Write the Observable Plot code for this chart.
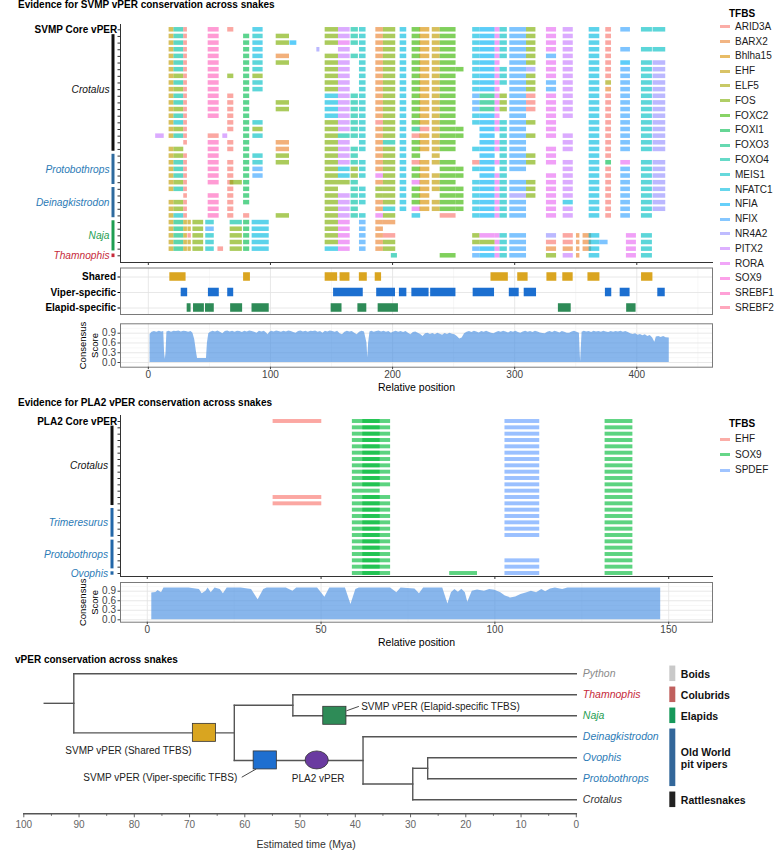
<!DOCTYPE html>
<html><head><meta charset="utf-8">
<script src="https://cdn.jsdelivr.net/npm/d3@7"></script>
<script src="https://cdn.jsdelivr.net/npm/@observablehq/plot@0.6"></script>
<style>
body{margin:0;background:#fff;font-family:"Liberation Sans",Arial,Helvetica,sans-serif;}
#wrap{position:relative;width:777px;height:850px;overflow:hidden;background:#fff;}
.t{position:absolute;white-space:nowrap;line-height:12px;}
.title{font-weight:bold;font-size:10px;color:#000;}
.leg{font-size:10px;color:#1a1a1a;}
.sw{position:absolute;height:3px;width:10px;}
</style></head><body><div id="wrap"></div>
<script>
// ---------------- DATA ----------------
const tfNames = ["ARID3A","BARX2","Bhlha15","EHF","ELF5","FOS","FOXC2","FOXI1","FOXO3","FOXO4","MEIS1","NFATC1","NFIA","NFIX","NR4A2","PITX2","RORA","SOX9","SREBF1","SREBF2"];
const tfCodes = "abcdefghijklmnopqrst";
const tfColors = ["#F8766D","#EA8331","#D89000","#C09B00","#A3A500","#7CAE00","#39B600","#00BB4E","#00BF7D","#00C1A3","#00BFC4","#00BAE0","#00B0F6","#35A2FF","#9590FF","#C77CFF","#E76BF3","#FA62DB","#FF62BC","#FF6C91"];

// SVMP TFBS sites: [start, end, default TF code]
const svmpSites = [
 [6,13,"p"],[17,21,"d"],[21,29,"j"],[29,32,"a"],[32.4,35.2,"d"],[36.5,45.3,"f"],[47,54,"k"],[49,58,"s"],
 [57,61.6,"a"],[61,65,"p"],[65,70,"a"],[67,77,"f"],[78,83,"h"],[85.6,94,"k"],[85,99,"l"],[104.7,115.6,"f"],
 [116,121.6,"m"],[138,140.5,"o"],[144.8,155.7,"f"],[155.7,165.3,"p"],[166,172,"j"],[172.9,178.3,"k"],[186.3,192.5,"b"],[192.5,202.6,"f"],
 [206.2,211.6,"l"],[216,223,"g"],[222.5,230.5,"c"],[232.5,239,"d"],[239,252,"g"],[252,258.5,"g"],[265.6,271.6,"l"],[271.6,284,"m"],
 [284,288,"q"],[288,294,"k"],[296,309.7,"n"],[309.7,317.4,"f"],[326,334.3,"q"],[339.7,348,"p"],[361,369.7,"l"],[374.6,379.3,"a"],
 [386.9,394.8,"n"],[403.8,412.8,"k"],[413.3,423.7,"o"],[350.6,353.4,"b"],[356,363,"b"],[369.7,376.5,"n"],[391.5,399.7,"q"],[199,204,"j"]
];
// per sequence: site index + optional TF override code
const svmpRows = [
 "1 2 3 7 10 13l 18 19 20 21 22 23 24 25 26 27 28 30 31 32 33 34 35 36 37 38 39 40 41 42k",
 "1 2 3 7 12 13 15 18 19 20 21 22 23 24 25 26 27 28 30 31 32 33 34 35 36 37 38 39",
 "1 2 3 7 12 13l 15 16 18 19q 20 21 22 23 24 25 26 27 28 30 31 32 33 34 35 36 37 38 39",
 "1 2 3 7 12 13l 17 19 21 22 23 24 25 26 27 28 30 31 32 33 34 35 36 37 38 39 40 41 42k",
 "1 2 3 7 12 13l 15b 18 19 20 21 22 23 24 25 26 27 28 30 31 32 33 34 35 36n 37 38 39",
 "1 2 3 7 12 13 15 18 19 21 22 23 24 25 26 27 28 30 31 32 34 35 36 37 38 39 40m 41 42o",
 "1 2 3 7 12 13 18 19 21 22 23 24 25 26 27 28 29 30 31 32 33 34 35o 36 37 38 39 40 41 42o",
 "1 2f 3 7 10f 12 13f 18 19 21 22 23 24 25 26 27 28 30 31 32 33 34 35 36 37 38 39 40 41 42o",
 "1 2 3 7 12 13 18 19 21 22 23 24 25 26 27 28 30 31 32 33 34 35 36n 37 38 39e 40 41 42o",
 "1 2f 3 7 12 13 18 19 21 22 23 24 25 26 27 28 30 31 32 34 35 36n 37 38 39b 40 41 42o",
 "1 2 3 7 10 12 18l 19 20 21 22 23 24 25 26 27 28 30n 31i 32 33f 34 35a 36 37 38 39 40 41 42",
 "1 2 3 7 10 12 15 18l 19 20 21 22 23 24 25 26 27 28 30n 31i 32 33f 34 35a 36 37 38 39 40 41 42",
 "1 2f 3 7 10 12 15 18l 19 20 21 22 23 24 25 26 27 28 30n 31i 32 33f 34 35a 36 37 38 39 40 41 42",
 "1 2 3 7 10 12 18l 19 20 21 22 23 24 25 26 27 28 30 31 32 34 36q 37 38 39 40 41 42",
 "1 2k 3 10 12 13 18 19 20 21 22a 23 24 25 26 27 28 30 31 32 33 34 35 36q 38 39 40 41 42o",
 "1 2f 3 10 12 13f 18 19 20 21 22 23 24 25i 26a 27 28 29 31 32 33 34 36 38 39 40 41 42o",
 "0 1 2 3 7a 9 12 13 18 19j 20 21 22 23 24 25a 26 27 28 29 31 33 34 35 36 37 38 39 40 41 42",
 "3 7 10 12 15b 18 19 21 22 23j 24 25 26 27 28 31 32 33 34 37 38 39 40 41 42o",
 "1 2f 7 10 12 15b 18 19 20 21 22 23 24 25 26 27 28 30 31 32 33 34 36 37 38 39 40 41 42",
 "1 2f 3 7 12 13 15 18 19 20 22 23 24 25 27 31 33 34 35 36 38 39",
 "1 2 3 7 10 12 13 15 18 19 20 21 22 23 24 25a 26 27 28 30a 31 32 33 34 35 36 37 38 39h 40q 41 42o",
 "1 2 3 7 10 12 13n 18 19l 20f 21 22 23 24 25 26 28 29 30 31 33 34 37 38 39 40 41 42o",
 "1 2 3 7 10 12 13n 18 19l 20f 21 22q 23 24 25 26 27 28 29 31 32 33 36 37 38 39 40 41 42o",
 "1 2f 3 7 10 11 12 18 19f 20 22 23 24 25q 26 27 28 30 31 32 33 34 35 36 37 38 39 40 41 42o",
 "1 2 3 10 12 18 20 21 22f 23 24 25 26 27 28 29 30 31 32 33 34 35 36 37 38 39 40 41 42",
 "3 7 10 12 18 19 20 21 22f 23 24 25 26 28 29 30 31 32 33 34o 35 36 37 38 39 40 41 42",
 "1 2f 3 7 10 12 18 19 20 21 22 23 24 25 26 27 28 29 30 31 32 33 34 36 37l 38 39 40 41 42o",
 "1 2f 3 7 10 18 19 20 22b 23k 24 25q 26 27 28 29 30 31 32 33 34 36 37 38 39 40 41 42",
 "1 2k 3 7 10 12a 15 18 19 20 21 22q 23 25l 28a 30 31 32 33 34 36 37 38 39 40 41",
 "1 2i 3d 4 5 6 11j 12 14 18 19q 21n 22 23b",
 "1 2i 3d 4 5 6n 11 12 14 18 19q 21n 22",
 "1 2i 3d 4a 5 6 11 12 14 18 19q 21n 22 23a 30f 31q 32 33 34 36o 37a 43 44 38 41 46",
 "1 2i 3d 4 5 6 11 12 14 18 19q 21n 22 23 30f 31f 32 33 34 36a 37a 43 44 38 45 41 46",
 "1 2i 3d 4 5 6 8 11 12 14 18l 19q 21n 22 23 30n 31 32 33 34 36b 37b 43 44 38 41 46",
 "28 30n 31 32 33 34 36f 37 43 38 41 46 47"
];
const svmpGroups = [
 {name:"Crotalus", from:1, to:18, text:"#111111", bar:"#111111"},
 {name:"Protobothrops", from:19, to:23, text:"#2C7BB6", bar:"#2E6A9E"},
 {name:"Deinagkistrodon", from:24, to:28, text:"#2C7BB6", bar:"#2E6A9E"},
 {name:"Naja", from:29, to:33, text:"#1E9E52", bar:"#1E9E52"},
 {name:"Thamnophis", from:34, to:34, text:"#C62A3A", bar:"#C62A3A"}
];
const svmpCoreLabel = "SVMP Core vPER";

const specCats = ["Shared","Viper-specific","Elapid-specific"];
const specColors = ["#DAA520","#1C6FD0","#2E8B57"];
const sharedSites = [[17.6,30.9],[78,83.6],[144.8,155],[157,165.1],[172.8,179.3],[185.8,191],[280.6,294.8],[302.5,311],[326.4,334.5],[339.4,347.9],[360,369.8],[403.9,413.2]];
const viperSites = [[26.9,32.2],[49.2,58.1],[65,69.9],[151.7,176],[187,202.4],[205.6,211.7],[215.8,229.9],[231.2,251.9],[266,283.5],[295.6,303.7],[307.8,317.9],[374.3,379.5],[386.4,394.5],[417.2,423.3]];
const elapidSites = [[31.8,35],[37,45.9],[46.8,54],[67.4,77.2],[84.9,99],[149.7,158.6],[171.6,178.9],[188.2,204.8],[335.8,346.3],[391.7,399.4]];

const svmpConsensus = [
 [1.4,0.86],[3,0.93],[5,0.95],[7,0.93],[9,0.96],[11,0.94],[12.6,0.95],[13.3,0.3],[13.9,0.1],[14.5,0.3],[15.2,0.94],[17,0.96],[19,0.93],[21,0.96],[23,0.95],[25,0.97],[27,0.94],[29,0.96],[31,0.95],[33,0.93],[35,0.95],[36.5,0.9],[38,0.7],[39.5,0.3],[40.3,0.12],[44,0.12],[47.6,0.12],[48.4,0.6],[49.5,0.88],
 [51,0.93],[53,0.96],[55,0.94],[57,0.97],[59,0.93],[61,0.88],[63,0.95],[65,0.97],[67,0.94],[69,0.96],[71,0.93],[73,0.96],[75,0.95],[77,0.92],[79,0.96],[81,0.94],[83,0.97],[85,0.95],[87,0.93],[89,0.9],[91,0.96],[93,0.94],[95,0.96],[97,0.9],[98,0.85],[99.5,0.93],
 [101,0.96],[103,0.94],[105,0.97],[107,0.95],[109,0.93],[111,0.96],[113,0.94],[115,0.97],[117,0.95],[119,0.92],[121,0.9],[123,0.95],[125,0.97],[127,0.94],[129,0.96],[131,0.93],[133,0.96],[135,0.95],[137,0.97],[139,0.93],[141,0.95],[143,0.9],[145,0.96],[147,0.94],[149,0.97],
 [151,0.95],[153,0.93],[155,0.96],[157,0.88],[159,0.85],[161,0.93],[163,0.96],[165,0.94],[167,0.95],[169,0.9],[171,0.85],[173,0.93],[175,0.96],[177,0.94],[179,0.6],[179.7,0.15],[180.4,0.6],[181.5,0.94],[183,0.96],[185,0.93],[187,0.95],[189,0.97],[191,0.94],[193,0.96],[195,0.93],[197,0.95],[199,0.9],
 [201,0.94],[203,0.96],[205,0.93],[207,0.95],[209,0.92],[211,0.95],[213,0.9],[215,0.85],[217,0.92],[219,0.94],[221,0.9],[223,0.86],[225,0.8],[227,0.88],[229,0.9],[231,0.86],[233,0.89],[235,0.85],[237,0.9],[239,0.87],[241,0.84],[243,0.89],[245,0.86],[247,0.9],[249,0.87],
 [251,0.85],[253,0.8],[255,0.72],[257,0.75],[259,0.88],[261,0.93],[263,0.95],[265,0.92],[267,0.96],[269,0.94],[271,0.91],[273,0.95],[275,0.93],[277,0.96],[279,0.93],[281,0.9],[283,0.88],[285,0.92],[287,0.95],[289,0.93],[291,0.96],[293,0.94],[295,0.91],[297,0.95],[299,0.93],
 [301,0.96],[303,0.92],[305,0.9],[307,0.94],[309,0.96],[311,0.93],[313,0.95],[315,0.92],[317,0.96],[319,0.94],[321,0.91],[323,0.89],[325,0.88],[327,0.93],[329,0.95],[331,0.92],[333,0.96],[335,0.94],[337,0.91],[339,0.95],[341,0.93],[343,0.9],[345,0.9],[347,0.94],[349,0.96],
 [351,0.93],[353,0.9],[353.5,0.4],[354,0.02],[354.5,0.4],[355.2,0.93],[357,0.96],[359,0.94],[361,0.95],[363,0.92],[365,0.96],[367,0.94],[369,0.95],[371,0.93],[373,0.96],[375,0.94],[377,0.92],[379,0.95],[381,0.93],[383,0.95],[385,0.94],[387,0.96],[389,0.93],[391,0.95],[393,0.92],[395,0.88],[397,0.86],[399,0.88],
 [401,0.84],[403,0.86],[405,0.82],[407,0.85],[409,0.8],[411,0.83],[413,0.75],[414.8,0.62],[416,0.78],[418,0.8],[420,0.77],[422,0.8],[424,0.76],[426.6,0.75]
];

const pla2TF = ["EHF","SOX9","SPDEF"];
const pla2Colors = ["#F8766D","#00BA38","#619CFF"];
const pla2Sites = [[36.2,50.2,"EHF"],[59,67,"SOX9"],[62,70,"SOX9"],[87,95,"SOX9"],[102.9,112.9,"SPDEF"],[131.7,139.7,"SOX9"]];
const pla2Rows = [
 "0 1 2 4 5","1 2 4 5","1 2 4 5","1 2 4 5","1 2 4 5","1 2 4 5","1 2 4 5","1 2 4 5","1 2 4 5","1 2 4 5","1 2 4 5",
 "1 4 5","0 1 2 4 5","0 1 2 4 5","1 2 4 5","1 2 4 5","1 2 4 5","1 2 4 5","1 2 4 5",
 "1 2 5","1 2 5","1 2 5","1 2 4 5","1 2 4 5","1 2 3 4 5"
];
const pla2Groups = [
 {name:"Crotalus", from:1, to:13, text:"#111111", bar:"#111111"},
 {name:"Trimeresurus", from:14, to:18, text:"#2C7BB6", bar:"#2367A8"},
 {name:"Protobothrops", from:19, to:23, text:"#2C7BB6", bar:"#2367A8"},
 {name:"Ovophis", from:24, to:24, text:"#2C7BB6", bar:"#2367A8"}
];
const pla2CoreLabel = "PLA2 Core vPER";
const pla2Consensus = [
 [1.3,0.84],[2.5,0.86],[3.1,0.92],[4.1,0.85],[4.8,1.0],[8,1.0],[12,1.0],[15,0.95],[15.8,0.82],[16.9,0.9],[17.5,1.0],[18.4,0.85],[19.5,1.0],[21,0.95],[21.9,0.82],[23,1.0],[27,1.0],[30,0.95],[31.9,0.63],[33.5,0.95],[34.5,1.0],
 [40,1.0],[41.9,0.9],[43,1.0],[49,1.0],[51.1,0.71],[52.5,1.0],[57,1.0],[58.6,0.48],[60,0.95],[61,1.0],[70,1.0],[71.8,0.85],[73,1.0],[77,0.97],[78.3,0.82],[79.5,1.0],[85,1.0],[86.5,0.5],[87.5,0.85],[88.5,0.95],[89.5,0.87],[90.5,0.96],[91.5,0.85],[92.2,0.55],[93.5,0.9],[95,0.94],[97,0.9],[98.5,0.95],
 [100,0.93],[101.7,0.85],[103,0.75],[104.5,0.69],[106,0.72],[107.5,0.8],[109,0.84],[110.5,0.9],[112,0.85],[113.5,0.95],[114.6,0.88],[116,0.97],[117.4,1.0],[119.5,0.95],[121,1.0],[147.7,1.0]
];

const treeTips = ["Python","Thamnophis","Naja","Deinagkistrodon","Ovophis","Protobothrops","Crotalus"];
const tipColors = ["#8a8a8a","#C62A3A","#1E9E52","#2C7BB6","#2C7BB6","#2C7BB6","#333333"];
const treeNodes = [
 {id:"root", time:90.95, children:["Python","A"]},
 {id:"A", time:61.9, children:["B","C"]},
 {id:"B", time:51.3, children:["Thamnophis","Naja"]},
 {id:"C", time:38.6, children:["Deinagkistrodon","D"]},
 {id:"D", time:29.6, children:["E","Crotalus"]},
 {id:"E", time:26.9, children:["Ovophis","Protobothrops"]}
];
const rootEdgeStart = 96.3;
const clades = [
 {name:"Boids", tips:["Python"], color:"#C9C9C9"},
 {name:"Colubrids", tips:["Thamnophis"], color:"#C0605E"},
 {name:"Elapids", tips:["Naja"], color:"#16985A"},
 {name:"Old World\npit vipers", tips:["Deinagkistrodon","Ovophis","Protobothrops"], color:"#33679A"},
 {name:"Rattlesnakes", tips:["Crotalus"], color:"#222222"}
];
const treeEvents = [
 {label:"SVMP vPER (Shared TFBS)", time:67.3, branch:"A", shape:"box", color:"#D9A520"},
 {label:"SVMP vPER (Elapid-specific TFBS)", time:43.7, branch:"Naja", shape:"box", color:"#2E8B57"},
 {label:"SVMP vPER (Viper-specific TFBS)", time:56.3, branch:"C", shape:"box", color:"#1E6FD0"},
 {label:"PLA2 vPER", time:46.9, branch:"C", shape:"oval", color:"#6A3BA0"}
];
const timeMajor = d3.range(0, 101, 10);
const timeMinor = d3.range(5, 100, 10);

// ---------------- LAYOUT / HELPERS ----------------
const FF = '"Liberation Sans", Arial, Helvetica, sans-serif';
const wrap = document.getElementById("wrap");
const baseStyle = {fontFamily: FF, fontSize: "10px", overflow: "visible", background: "none", color: "#000"};
function place(svg, top){ svg.style.position = "absolute"; svg.style.left = "0px"; svg.style.top = top + "px"; wrap.appendChild(svg); }
function addText(txt, left, top, cls, extra){ const d = document.createElement("div"); d.className = "t " + cls; d.textContent = txt; d.style.left = left + "px"; d.style.top = top + "px"; if (extra) Object.assign(d.style, extra); wrap.appendChild(d); return d; }
function hexA(hex, a){ const c = d3.rgb(hex); c.opacity = a; return c.formatRgb(); }
const codeToTF = Object.fromEntries(tfCodes.split("").map((c, i) => [c, tfNames[i]]));

function groupMarks(groups, coreLabel, domMin, labelDx, barDx){
  const m = [];
  m.push(Plot.text([coreLabel], {frameAnchor: "left", y: () => 0, text: d => d, dx: -3.3, textAnchor: "end", lineAnchor: "middle", fontWeight: "bold", fontSize: 10, fill: "#000"}));
  groups.forEach(g => {
    m.push(Plot.ruleX([g], {x: () => domMin, y1: d => d.from - 0.27, y2: d => d.to + 0.27, dx: barDx, stroke: g.bar, strokeWidth: 3}));
    m.push(Plot.text([g], {frameAnchor: "left", y: d => Math.floor((d.from + d.to) / 2), text: "name", dx: labelDx, textAnchor: "end", lineAnchor: "middle", fontStyle: "italic", fontSize: 10.2, fill: g.text}));
  });
  return m;
}
function consensusLabels(){
  return [
    Plot.text(["Relative position"], {frameAnchor: "bottom", text: d => d, dy: 20, textAnchor: "middle", lineAnchor: "middle", fontSize: 10.5, fill: "#000"}),
    Plot.text(["Consensus\nScore"], {frameAnchor: "left", text: d => d, dx: -32, rotate: -90, textAnchor: "middle", lineAnchor: "middle", fontSize: 9.5, fill: "#000", lineHeight: 1.2})
  ];
}

// ---------------- TITLES & LEGENDS ----------------
addText("Evidence for SVMP vPER conservation across snakes", 18, -1, "title");
addText("Evidence for PLA2 vPER conservation across snakes", 18, 396.5, "title");
addText("vPER conservation across snakes", 15, 654, "title");

addText("TFBS", 729, 8, "title");
tfNames.forEach((n, i) => {
  const y = 26.7 + 14.8 * i;
  const s = document.createElement("div"); s.className = "sw"; s.style.left = "720px"; s.style.top = (y - 1.5) + "px"; s.style.background = hexA(tfColors[i], 0.6); wrap.appendChild(s);
  addText(n, 735, y - 6, "leg");
});
addText("TFBS", 729, 418.3, "title");
pla2TF.forEach((n, i) => {
  const y = 439.3 + 15.5 * i;
  const s = document.createElement("div"); s.className = "sw"; s.style.left = "720px"; s.style.top = (y - 1.5) + "px"; s.style.background = hexA(pla2Colors[i], 0.6); wrap.appendChild(s);
  addText(n, 735, y - 6, "leg");
});

// ---------------- PANEL A: SVMP TFBS heatmap ----------------
const xTop = [-22.8, 462];
const svmpBars = svmpRows.flatMap((row, k) => row.split(" ").map(tok => {
  const m = tok.match(/^(\d+)([a-t]?)$/);
  const s = svmpSites[+m[1]];
  return {x1: s[0], x2: s[1], row: k, tf: codeToTF[m[2] || s[2]]};
}));
place(Plot.plot({
  width: 777, height: 268, marginLeft: 120, marginRight: 65, marginTop: 24, marginBottom: 6,
  style: baseStyle,
  x: {domain: xTop, label: null},
  y: {domain: [0, 34], range: [29.3, 255.3], label: null},
  color: {domain: tfNames, range: tfColors},
  marks: [
    Plot.rect(svmpBars, {x1: d => d.x1, x2: d => d.x2, y1: d => d.row - 0.34, y2: d => d.row + 0.34, fill: d => d.tf, fillOpacity: 0.64}),
    Plot.axisY(d3.range(svmpRows.length), {tickSize: 2.5, tickFormat: () => "", stroke: "#333"}),
    Plot.axisX([0, 100, 200, 300, 400], {tickSize: 3, tickFormat: () => "", stroke: "#333"}),
    Plot.frame({anchor: "left", stroke: "#333"}),
    Plot.frame({anchor: "bottom", stroke: "#333"}),
    ...groupMarks(svmpGroups, svmpCoreLabel, xTop[0], -11, -7.5)
  ]
}), 0);

// ---------------- PANEL B: shared / viper / elapid ----------------
const majorTop = [0, 100, 200, 300, 400], minorTop = [50, 150, 250, 350, 450];
const specBars = [sharedSites, viperSites, elapidSites].flatMap((arr, i) => arr.map(([a, b]) => ({x1: a, x2: b, cat: i})));
place(Plot.plot({
  width: 777, height: 56, marginLeft: 120, marginRight: 65, marginTop: 5.5, marginBottom: 4,
  style: baseStyle,
  x: {domain: xTop, label: null, axis: null},
  y: {domain: [0, 2], range: [14.5, 45.5], label: null},
  marks: [
    Plot.gridX(minorTop, {stroke: "#efefef", strokeOpacity: 1, strokeWidth: 0.5}),
    Plot.gridX(majorTop, {stroke: "#e2e2e2", strokeOpacity: 1, strokeWidth: 0.8}),
    Plot.gridY([0, 1, 2], {stroke: "#e2e2e2", strokeOpacity: 1, strokeWidth: 0.8}),
    ...specCats.map((c, i) => Plot.rect(specBars.filter(d => d.cat === i), {x1: d => d.x1, x2: d => d.x2, y1: d => d.cat - 0.275, y2: d => d.cat + 0.275, fill: specColors[i]})),
    Plot.frame({stroke: "#7a7a7a"}),
    Plot.axisY([0, 1, 2], {tickSize: 2.5, tickPadding: 2, tickFormat: i => specCats[i], fontWeight: "bold", fontSize: 10, color: "#000"})
  ]
}), 262);

// ---------------- PANEL C: SVMP consensus ----------------
place(Plot.plot({
  width: 777, height: 76, marginLeft: 120, marginRight: 65, marginTop: 5.3, marginBottom: 27.3,
  style: baseStyle,
  x: {domain: xTop, label: null},
  y: {domain: [-0.144, 1.189], label: null},
  marks: [
    Plot.gridX(minorTop, {stroke: "#efefef", strokeOpacity: 1, strokeWidth: 0.5}),
    Plot.gridX(majorTop, {stroke: "#e2e2e2", strokeOpacity: 1, strokeWidth: 0.8}),
    Plot.gridY([0.15, 0.45, 0.75, 1.05], {stroke: "#efefef", strokeOpacity: 1, strokeWidth: 0.5}),
    Plot.gridY([0, 0.3, 0.6, 0.9], {stroke: "#e2e2e2", strokeOpacity: 1, strokeWidth: 0.8}),
    Plot.areaY(svmpConsensus, {x: d => d[0], y: d => d[1], fill: "#4A90E2", fillOpacity: 0.66}),
    Plot.frame({stroke: "#7a7a7a"}),
    Plot.axisY([0, 0.3, 0.6, 0.9], {tickSize: 2.5, tickPadding: 2, tickFormat: d3.format(".1f"), fontSize: 10, color: "#444"}),
    Plot.axisX(majorTop, {tickSize: 2.5, tickPadding: 1.5, fontSize: 10, color: "#444"}),
    ...consensusLabels()
  ]
}), 318);

// ---------------- PANEL D: PLA2 TFBS heatmap ----------------
const xPla = [-7.7, 162.6];
const pla2Bars = pla2Rows.flatMap((row, k) => row.split(" ").map(tok => {
  const s = pla2Sites[+tok];
  return {x1: s[0], x2: s[1], row: k, tf: s[2]};
}));
place(Plot.plot({
  width: 777, height: 170, marginLeft: 120, marginRight: 65, marginTop: 5, marginBottom: 4,
  style: baseStyle,
  x: {domain: xPla, label: null},
  y: {domain: [0, 24], range: [11, 163], label: null},
  color: {domain: pla2TF, range: pla2Colors},
  marks: [
    Plot.rect(pla2Bars, {x1: d => d.x1, x2: d => d.x2, y1: d => d.row - 0.31, y2: d => d.row + 0.31, fill: d => d.tf, fillOpacity: 0.64}),
    Plot.axisY(d3.range(pla2Rows.length), {tickSize: 2.5, tickFormat: () => "", stroke: "#333"}),
    Plot.axisX([0, 50, 100, 150], {tickSize: 3, tickFormat: () => "", stroke: "#333"}),
    Plot.frame({anchor: "left", stroke: "#333"}),
    Plot.frame({anchor: "bottom", stroke: "#333"}),
    ...groupMarks(pla2Groups, pla2CoreLabel, xPla[0], -12.5, -8.5)
  ]
}), 410);

// ---------------- PANEL E: PLA2 consensus ----------------
place(Plot.plot({
  width: 777, height: 72, marginLeft: 120, marginRight: 65, marginTop: 5, marginBottom: 27.3,
  style: baseStyle,
  x: {domain: xPla, label: null},
  y: {domain: [-0.0755, 1.174], label: null},
  marks: [
    Plot.gridX([25, 75, 125], {stroke: "#efefef", strokeOpacity: 1, strokeWidth: 0.5}),
    Plot.gridX([0, 50, 100, 150], {stroke: "#e2e2e2", strokeOpacity: 1, strokeWidth: 0.8}),
    Plot.gridY([0.15, 0.45, 0.75, 1.05], {stroke: "#efefef", strokeOpacity: 1, strokeWidth: 0.5}),
    Plot.gridY([0, 0.3, 0.6, 0.9], {stroke: "#e2e2e2", strokeOpacity: 1, strokeWidth: 0.8}),
    Plot.areaY(pla2Consensus, {x: d => d[0], y: d => d[1], fill: "#4A90E2", fillOpacity: 0.66}),
    Plot.frame({stroke: "#7a7a7a"}),
    Plot.axisY([0, 0.3, 0.6, 0.9], {tickSize: 2.5, tickPadding: 2, tickFormat: d3.format(".1f"), fontSize: 10, color: "#444"}),
    Plot.axisX([0, 50, 100, 150], {tickSize: 2.5, tickPadding: 1.5, fontSize: 10, color: "#444"}),
    ...consensusLabels()
  ]
}), 577);

// ---------------- PANEL F: tree ----------------
const tipIndex = Object.fromEntries(treeTips.map((t, i) => [t, i]));
const nodeById = Object.fromEntries(treeNodes.map(n => [n.id, n]));
const yCache = {};
function yOf(id){ if (id in tipIndex) return tipIndex[id]; if (!(id in yCache)) yCache[id] = d3.mean(nodeById[id].children, yOf); return yCache[id]; }
function tOf(id){ return id in tipIndex ? 0 : nodeById[id].time; }
const treeSegs = [];
treeNodes.forEach(n => {
  const ys = n.children.map(yOf);
  treeSegs.push({x1: n.time, x2: n.time, y1: d3.min(ys), y2: d3.max(ys)});
  n.children.forEach(c => treeSegs.push({x1: n.time, x2: tOf(c), y1: yOf(c), y2: yOf(c)}));
});
treeSegs.push({x1: rootEdgeStart, x2: nodeById.root.time, y1: yOf("root"), y2: yOf("root")});

const T = {width: 777, height: 198, ml: 23.3, mr: 201.2, yr: [21.3, 147.3]};
const pxPerMya = (T.width - T.ml - T.mr) / 100;
const pxPerTip = (T.yr[1] - T.yr[0]) / (treeTips.length - 1);
const evLayout = {
  "SVMP vPER (Shared TFBS)": {anchor: "middle", dx: -76, dy: 17.6},
  "SVMP vPER (Elapid-specific TFBS)": {anchor: "start", dx: 26.3, dy: -9.4, leader: [[11.6, -5], [24, -9.4]]},
  "SVMP vPER (Viper-specific TFBS)": {anchor: "end", dx: -28, dy: 17.8, leader: [[-9, 8.5], [-23.5, 16.8]]},
  "PLA2 vPER": {anchor: "middle", dx: 1, dy: 18.2}
};
const leaders = treeEvents.filter(e => evLayout[e.label].leader).map(e => {
  const [[ax, ay], [bx, by]] = evLayout[e.label].leader;
  const y = yOf(e.branch);
  return {x1: e.time - ax / pxPerMya, y1: y + ay / pxPerTip, x2: e.time - bx / pxPerMya, y2: y + by / pxPerTip};
});
const treeMarks = [
  Plot.axisX(timeMinor, {tickSize: 2.5, tickFormat: () => "", color: "#666"}),
  Plot.axisX(timeMajor, {tickSize: 4, tickPadding: 3, fontSize: 10, color: "#666"}),
  Plot.frame({anchor: "bottom", stroke: "#555", strokeWidth: 1.5}),
  Plot.text(["Estimated time (Mya)"], {frameAnchor: "bottom", text: d => d, dy: 30.7, dx: 6, textAnchor: "middle", lineAnchor: "middle", fontSize: 10.5, fill: "#333"}),
  Plot.link(treeSegs, {x1: d => d.x1, y1: d => d.y1, x2: d => d.x2, y2: d => d.y2, stroke: "#555", strokeWidth: 1.4, strokeLinecap: "square"}),
  Plot.link(leaders, {x1: d => d.x1, y1: d => d.y1, x2: d => d.x2, y2: d => d.y2, stroke: "#333", strokeWidth: 0.9})
];
treeTips.forEach((t, i) => treeMarks.push(Plot.text([t], {x: () => 0, y: () => i, text: d => d, dx: 6.5, textAnchor: "start", fontStyle: "italic", fontSize: 10.5, fill: tipColors[i]})));
clades.forEach(c => {
  const ys = c.tips.map(yOf);
  treeMarks.push(Plot.ruleX([c], {x: () => 0, y1: () => d3.min(ys) - 0.37, y2: () => d3.max(ys) + 0.37, dx: 96, stroke: c.color, strokeWidth: 6}));
  treeMarks.push(Plot.text([c], {x: () => 0, y: () => d3.mean(ys), text: d => d.name, dx: 104.5, textAnchor: "start", fontWeight: "bold", fontSize: 10.5, fill: "#111", lineHeight: 1.15}));
});
treeEvents.forEach(e => {
  const y = yOf(e.branch);
  treeMarks.push(Plot.rect([e], {x1: d => d.time, x2: d => d.time, y1: () => y, y2: () => y,
    insetLeft: -11.6, insetRight: -11.6, insetTop: -9, insetBottom: -9,
    rx: e.shape === "oval" ? 11.6 : 0, ry: e.shape === "oval" ? 9 : 0,
    fill: e.color, stroke: "#333", strokeWidth: 0.8}));
  const L = evLayout[e.label];
  treeMarks.push(Plot.text([e], {x: d => d.time, y: () => y, text: d => d.label, dx: L.dx, dy: L.dy, textAnchor: L.anchor, fontSize: 10, fill: "#222"}));
});
place(Plot.plot({
  width: T.width, height: T.height, marginLeft: T.ml, marginRight: T.mr, marginTop: 10, marginBottom: 36.7,
  style: baseStyle,
  x: {domain: [100, 0], label: null},
  y: {domain: [0, treeTips.length - 1], range: T.yr, label: null, axis: null},
  marks: treeMarks
}), 652);
</script></body></html>
